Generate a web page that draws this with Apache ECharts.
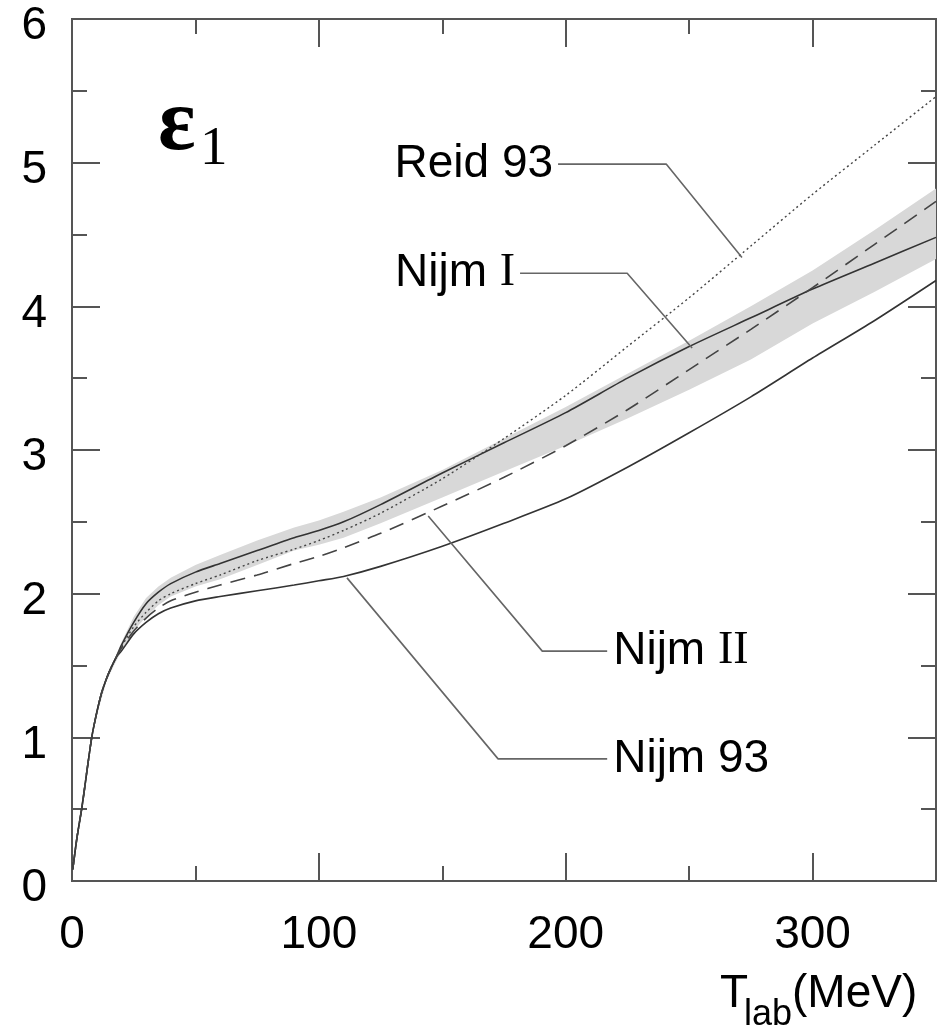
<!DOCTYPE html>
<html><head><meta charset="utf-8">
<script src="https://cdn.jsdelivr.net/npm/echarts@6/dist/echarts.min.js"></script>
<style>html,body{margin:0;padding:0;background:#fff}#c{width:939px;height:1034px}</style>
</head><body><div id="c"></div>
<script>
// ---- data (T_lab in MeV, epsilon_1 in degrees) ----
const tLow = [0.3, 2, 4, 6, 8, 10, 12, 14, 16, 18];
const eLow = [0.08, 0.30, 0.51, 0.76, 1.00, 1.17, 1.31, 1.41, 1.49, 1.56];
const tMain = [20, 25, 30, 35, 40, 50, 60, 75, 90, 100, 110, 125, 150, 175, 200, 225, 250, 275, 300, 325, 350];
const nijm93 = [1.60, 1.72, 1.80, 1.86, 1.90, 1.95, 1.98, 2.02, 2.06, 2.09, 2.12, 2.19, 2.33, 2.49, 2.66, 2.88, 3.12, 3.37, 3.64, 3.90, 4.18];
const nijmI  = [1.64, 1.80, 1.93, 2.01, 2.07, 2.15, 2.21, 2.30, 2.39, 2.44, 2.50, 2.62, 2.84, 3.05, 3.26, 3.50, 3.72, 3.92, 4.12, 4.30, 4.48];
const nijmII = [1.62, 1.74, 1.83, 1.90, 1.95, 2.01, 2.06, 2.13, 2.21, 2.26, 2.32, 2.42, 2.61, 2.81, 3.03, 3.28, 3.56, 3.84, 4.13, 4.43, 4.73];
const reid93 = [1.63, 1.77, 1.87, 1.95, 2.00, 2.07, 2.13, 2.23, 2.31, 2.37, 2.44, 2.56, 2.80, 3.08, 3.38, 3.72, 4.06, 4.42, 4.78, 5.12, 5.46];
const bandT     = [10, 14, 17, 20, 25, 30, 35, 40, 50, 60, 75, 90, 100, 110, 125, 150, 175, 200, 225, 250, 275, 300, 325, 350];
const bandUpper = [1.18, 1.43, 1.54, 1.66, 1.84, 1.97, 2.05, 2.11, 2.20, 2.27, 2.37, 2.46, 2.51, 2.57, 2.67, 2.86, 3.08, 3.30, 3.53, 3.76, 4.00, 4.25, 4.53, 4.82];
const bandLower = [1.15, 1.39, 1.50, 1.60, 1.74, 1.84, 1.92, 1.98, 2.05, 2.10, 2.20, 2.30, 2.34, 2.39, 2.49, 2.67, 2.85, 3.03, 3.22, 3.42, 3.63, 3.88, 4.10, 4.33];
// annotation leader lines (data coordinates)
const leaderReid   = [[196.9, 4.99], [240.7, 4.99], [271.4, 4.34]];
const leaderNijmI  = [[181.5, 4.23], [224.9, 4.23], [251.2, 3.71]];
const leaderNijmII = [[144.3, 2.54], [190.5, 1.60], [216.8, 1.60]];
const leaderNijm93 = [[111.4, 2.11], [172.6, 0.85], [216.8, 0.85]];

const SANS = "'Liberation Sans', Arial, Helvetica, sans-serif";
const SERIF = "'Liberation Serif', 'Times New Roman', serif";
const FRAME = '#555';

function curve(ys) {
  return tLow.map((t, i) => [t, eLow[i]]).concat(tMain.map((t, i) => [t, ys[i]]));
}

const chart = echarts.init(document.getElementById('c'), null, {renderer: 'canvas'});

function xAx(pos, interval, len, labels) {
  return {
    type: 'value', position: pos, min: 0, max: 350, interval: interval,
    axisLine: {show: true, onZero: false, lineStyle: {color: FRAME, width: 2}},
    axisTick: {show: true, inside: true, length: len, lineStyle: {color: FRAME, width: 2}},
    axisLabel: labels ? {
      show: true, fontSize: 46, fontFamily: SANS, color: '#000', margin: 31,
      showMaxLabel: false, formatter: v => (v % 100 === 0 ? String(v) : '')
    } : {show: false},
    splitLine: {show: false}
  };
}
function yAx(pos, interval, len, labels) {
  return {
    type: 'value', position: pos, min: 0, max: 6, interval: interval,
    axisLine: {show: true, onZero: false, lineStyle: {color: FRAME, width: 2}},
    axisTick: {show: true, inside: true, length: len, lineStyle: {color: FRAME, width: 2}},
    axisLabel: labels ? {
      show: true, fontSize: 46, fontFamily: SANS, color: '#000', margin: 25,
      verticalAlign: 'top', lineHeight: 15
    } : {show: false},
    splitLine: {show: false}
  };
}

const lineBase = {type: 'line', symbol: 'none', silent: true, smooth: 0.25, z: 3};
const leaderBase = {type: 'line', symbol: 'none', silent: true, z: 4,
  lineStyle: {color: '#666', width: 1.6}};

chart.setOption({
  animation: false,
  grid: {left: 72, right: 3, top: 19, bottom: 153, containLabel: false},
  xAxis: [xAx('bottom', 100, 28, true), xAx('bottom', 50, 15, false), xAx('top', 100, 28, false), xAx('top', 50, 15, false)],
  yAxis: [yAx('left', 1, 28, true), yAx('left', 0.5, 15, false), yAx('right', 1, 28, false), yAx('right', 0.5, 15, false)],
  series: [
    {
      type: 'custom', silent: true, z: 1, clip: true,
      data: [[bandT[0], bandLower[0]]],
      renderItem: function (params, api) {
        const pts = [];
        for (let i = 0; i < bandT.length; i++) pts.push(api.coord([bandT[i], bandUpper[i]]));
        for (let i = bandT.length - 1; i >= 0; i--) pts.push(api.coord([bandT[i], bandLower[i]]));
        return {type: 'polygon', shape: {points: pts}, style: {fill: '#d8d8d8', stroke: null}};
      }
    },
    Object.assign({}, lineBase, {name: 'Nijm 93', data: curve(nijm93), lineStyle: {color: '#333', width: 1.6}}),
    Object.assign({}, lineBase, {name: 'Nijm I', data: curve(nijmI), lineStyle: {color: '#333', width: 1.6}}),
    Object.assign({}, lineBase, {name: 'Nijm II', data: curve(nijmII), lineStyle: {color: '#444', width: 1.6, type: [15, 9]}}),
    Object.assign({}, lineBase, {name: 'Reid 93', data: curve(reid93), lineStyle: {color: '#444', width: 1.4, type: [2, 3]}}),
    Object.assign({}, leaderBase, {data: leaderReid}),
    Object.assign({}, leaderBase, {data: leaderNijmI}),
    Object.assign({}, leaderBase, {data: leaderNijmII}),
    Object.assign({}, leaderBase, {data: leaderNijm93})
  ]
});

function px(p) { return chart.convertToPixel({gridIndex: 0}, p); }
const pReid = px(leaderReid[0]);
const pNI = px(leaderNijmI[0]);
const pNII = px(leaderNijmII[2]);
const pN93 = px(leaderNijm93[2]);
const labFont = 46;
const rich = {
  s: {fontFamily: SANS, fontSize: labFont, fill: '#000'},
  r: {fontFamily: SERIF, fontSize: labFont, fill: '#000'}
};
chart.setOption({
  graphic: [
    {type: 'text', x: pReid[0] - 5, y: pReid[1], silent: true,
      style: {text: 'Reid 93', font: labFont + 'px ' + SANS, fill: '#000', align: 'right', verticalAlign: 'middle'}},
    {type: 'text', x: pNI[0] - 5, y: pNI[1], silent: true,
      style: {text: '{s|Nijm }{r|I}', rich: rich, align: 'right', verticalAlign: 'middle'}},
    {type: 'text', x: pNII[0] + 6, y: pNII[1], silent: true,
      style: {text: '{s|Nijm }{r|II}', rich: rich, align: 'left', verticalAlign: 'middle'}},
    {type: 'text', x: pN93[0] + 6, y: pN93[1], silent: true,
      style: {text: 'Nijm 93', font: labFont + 'px ' + SANS, fill: '#000', align: 'left', verticalAlign: 'middle'}},
    // panel label epsilon_1
    {type: 'text', left: 158, top: 82, silent: true,
      style: {text: 'ε', font: 'bold 88px ' + SERIF, fill: '#000'}},
    {type: 'text', left: 200, top: 122, silent: true,
      style: {text: '1', font: '55px ' + SERIF, fill: '#000'}},
    // axis title T_lab(MeV)
    {type: 'text', x: 720, y: 994, silent: true,
      style: {text: 'T', font: '46px ' + SANS, fill: '#000', align: 'left', verticalAlign: 'middle'}},
    {type: 'text', x: 744, y: 1015, silent: true,
      style: {text: 'lab', font: '36px ' + SANS, fill: '#000', align: 'left', verticalAlign: 'middle'}},
    {type: 'text', x: 792, y: 994, silent: true,
      style: {text: '(MeV)', font: '46px ' + SANS, fill: '#000', align: 'left', verticalAlign: 'middle'}}
  ]
});
</script>
</body></html>
